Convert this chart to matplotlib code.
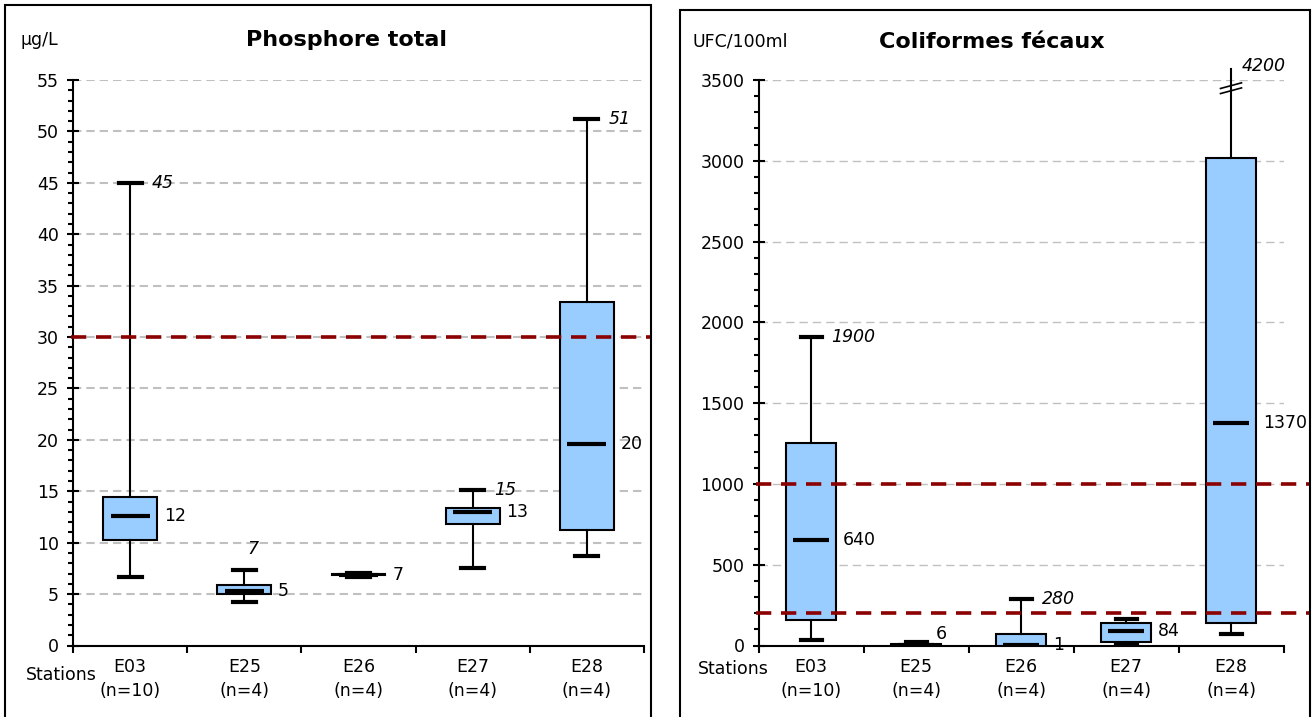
import numpy as np
import matplotlib
matplotlib.use("Agg")
import matplotlib.pyplot as plt
from matplotlib import transforms
from matplotlib.patches import Rectangle

plt.rcParams['font.family'] = ['DejaVu Sans']
plt.rcParams['lines.scale_dashes'] = False

# stations et nombre de mesures
stations = ["E03", "E25", "E26", "E27", "E28"]
n_obs = [10, 4, 4, 4, 4]

# Phosphore total (µg/L)
p_min = [6.7, 4.2, 6.65, 7.5, 8.7]
p_q1 = [10.3, 5.05, 6.85, 11.8, 11.2]
p_med = [12.6, 5.3, 6.9, 12.95, 19.6]
p_q3 = [14.4, 5.85, 6.95, 13.4, 33.4]
p_max = [45, 7.3, 7.05, 15.1, 51.2]
p_med_txt = ["12", "5", "7", "13", "20"]
p_max_txt = ["45", "7", "", "15", "51"]
p_seuils = [30]

# Coliformes fécaux (UFC/100ml)
c_min = [34, 0, 0, 12, 70]
c_q1 = [158, 1, 0, 19, 138]
c_med = [650, 6, 1, 87, 1380]
c_q3 = [1252, 8, 70, 142, 3015]
c_max = [1910, 20, 285, 167, 4200]
c_med_txt = ["640", "6", "1", "84", "1370"]
c_max_txt = ["1900", "", "280", "", "4200"]
c_seuils = [200, 1000]

W, H = 1315, 717
fig = plt.figure(figsize=(W / 100, H / 100), dpi=100)


def rect_px(x0, y0, x1, y1):
    return [x0 / W, 1 - y1 / H, (x1 - x0) / W, (y1 - y0) / H]


def panneau(ax, mins, q1s, meds, q3s, maxs, med_txt, max_txt, seuils, ymax, major, minor,
            grid_lw, ligne_px, st_off, decal_med, decal_max):
    pos = np.arange(1, len(stations) + 1)
    stats = [dict(whislo=a, q1=b, med=c, q3=d, whishi=e, fliers=[])
             for a, b, c, d, e in zip(mins, q1s, meds, q3s, maxs)]
    art = ax.bxp(stats, positions=pos, widths=0.47, capwidths=0.2, patch_artist=True,
                 showfliers=False,
                 boxprops=dict(facecolor='#99CCFF', edgecolor='black', linewidth=1.5),
                 whiskerprops=dict(color='black', linewidth=1.5),
                 capprops=dict(color='black', linewidth=3),
                 medianprops=dict(visible=False), zorder=3)
    ax.hlines(meds, pos - 0.17, pos + 0.17, color='black', lw=3, zorder=4)

    # moustache coupée si le max dépasse l'échelle
    for i, v in enumerate(maxs):
        if v > ymax:
            w = art['whiskers'][2 * i + 1]
            w.set_ydata([q3s[i], ymax * 1.02])
            w.set_clip_on(False)
            art['caps'][2 * i + 1].set_visible(False)
            for f in (0.99, 0.981):
                ax.plot([pos[i] - 0.1, pos[i] + 0.1], [ymax * (f - 0.005), ymax * (f + 0.005)],
                        color='black', lw=1.2, zorder=5, clip_on=False)

    # étiquettes (décalages en pixels, dy vers le haut)
    for i in range(len(pos)):
        dx, dy = decal_med.get(i, (7, 0))
        ax.annotate(med_txt[i], (pos[i] + 0.235, meds[i]), xytext=(dx, dy),
                    textcoords='offset pixels', ha='left', va='center', fontsize=12.5, zorder=6)
        if max_txt[i]:
            ha, dx, dy, xa = 'left', 10, 0, pos[i] + 0.1
            if i in decal_max:
                ha, dx, dy = decal_max[i]
                xa = pos[i]
            ax.annotate(max_txt[i], (xa, min(maxs[i], ymax)), xytext=(dx, dy),
                        textcoords='offset pixels', ha=ha, va='center', fontsize=12.5,
                        fontstyle='italic', zorder=6, annotation_clip=False)

    # seuils
    trans = transforms.blended_transform_factory(fig.transFigure, ax.transData)
    for s in seuils:
        ax.plot([ligne_px[0] / W, ligne_px[1] / W], [s, s], transform=trans, color='#8B0000',
                lw=2.6, linestyle=(0, (11, 7)), zorder=7, clip_on=False)

    ax.set_xlim(0.5, len(pos) + 0.5)
    ax.set_ylim(0, ymax)
    yt = np.arange(0, ymax + 1, major)
    ax.set_yticks(yt, [f"{t:g}" for t in yt])
    ax.set_yticks(np.arange(0, ymax + 1, minor), minor=True)
    ax.set_xticks(np.arange(0.5, len(pos) + 1), [])
    ax.set_xticks(pos, [f"{s}\n(n={n})" for s, n in zip(stations, n_obs)], minor=True)
    for t in ax.get_xticklabels(minor=True):
        t.set_linespacing(1.45)
    ax.tick_params(axis='y', which='major', direction='inout', length=8, width=1.5,
                   labelsize=12.5, pad=6)
    ax.tick_params(axis='y', which='minor', direction='out', length=3.6, width=1.5)
    ax.tick_params(axis='x', which='major', direction='out', length=5, width=1.5)
    ax.tick_params(axis='x', which='minor', length=0, labelsize=12.5, pad=9)
    ax.grid(axis='y', which='major', color='#C0C0C0', lw=grid_lw, linestyle=(0, (6, 3.6)))
    ax.set_axisbelow(True)
    for sp in ('top', 'right'):
        ax.spines[sp].set_visible(False)
    for sp in ('left', 'bottom'):
        ax.spines[sp].set_linewidth(1.5)
    ax.annotate("Stations", (0, 0), xycoords='axes fraction', xytext=st_off,
                textcoords='offset pixels', ha='right', va='center', fontsize=12.5)


ax1 = fig.add_axes(rect_px(73, 80, 644, 645.5))
ax2 = fig.add_axes(rect_px(758.5, 80, 1283.5, 645.5))

panneau(ax1, p_min, p_q1, p_med, p_q3, p_max, p_med_txt, p_max_txt, p_seuils,
        55, 5, 1, 1.5, (71, 651), (24, -30), {}, {1: ('center', 9, 21)})
panneau(ax2, c_min, c_q1, c_med, c_q3, c_max, c_med_txt, c_max_txt, c_seuils,
        3500, 500, 100, 1.0, (756, 1309), (10, -23), {1: (-5, 11)}, {4: ('left', 11, 14)})

# titres et unités
fig.text(346 / W, 1 - 40 / H, "Phosphore total", ha='center', va='center',
         fontsize=16, fontweight='bold')
fig.text(20 / W, 1 - 40 / H, "µg/L", ha='left', va='center', fontsize=12.5)
fig.text(992 / W, 1 - 42 / H, "Coliformes fécaux", ha='center', va='center',
         fontsize=16, fontweight='bold')
fig.text(692 / W, 1 - 42 / H, "UFC/100ml", ha='left', va='center', fontsize=12.5)

# cadres
for x0, y0, x1 in [(5, 5, 651), (680, 10, 1310)]:
    fig.add_artist(Rectangle((x0 / W, -0.05), (x1 - x0) / W, 1.05 - y0 / H,
                             transform=fig.transFigure, fill=False, lw=1.5, ec='black'))

fig.savefig("out.png", dpi=100)
